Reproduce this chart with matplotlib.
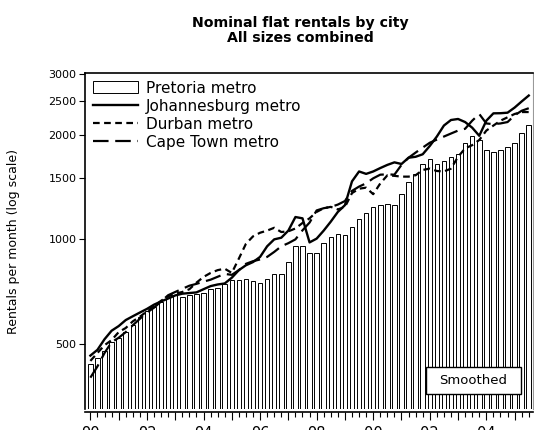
import numpy as np
import matplotlib.pyplot as plt
from matplotlib.patches import Rectangle
from matplotlib.ticker import FixedLocator, FuncFormatter, MultipleLocator, NullLocator

# quarterly observations, 1990Q1 .. 2005Q3
start_year = 1990
n_quarters = 63

pretoria = [437, 456, 477, 504, 519, 539, 568, 596, 623, 640,
            659, 679, 689, 684, 689, 694, 699, 717, 725, 744,
            765, 761, 771, 756, 749, 768, 792, 792, 858, 960,
            958, 916, 914, 974, 1015, 1033, 1028, 1086, 1146, 1194,
            1241, 1258, 1263, 1258, 1354, 1464, 1539, 1645, 1704, 1653,
            1681, 1730, 1769, 1895, 1990, 1936, 1807, 1787, 1816, 1849,
            1895, 2021, 2131]

johannesburg = [462, 480, 515, 545, 562, 585, 600, 615, 630, 648,
                662, 675, 689, 697, 700, 703, 718, 733, 741, 746,
                775, 815, 842, 860, 890, 955, 1000, 1011, 1060, 1160,
                1150, 980, 1005, 1060, 1125, 1200, 1255, 1470, 1570, 1545,
                1570, 1606, 1640, 1668, 1650, 1720, 1731, 1760, 1860, 1980,
                2130, 2210, 2225, 2180, 2100, 1990, 2200, 2310, 2312, 2320,
                2400, 2500, 2600]

durban = [446, 470, 495, 512, 540, 555, 580, 598, 620, 640,
          665, 685, 697, 705, 718, 750, 779, 800, 815, 823,
          800, 880, 971, 1020, 1045, 1060, 1080, 1050, 1055, 1075,
          1115, 1150, 1200, 1230, 1241, 1220, 1240, 1360, 1400, 1410,
          1350, 1450, 1530, 1525, 1517, 1517, 1531, 1586, 1600, 1575,
          1570, 1600, 1731, 1830, 1870, 1935, 2060, 2130, 2200, 2250,
          2300, 2330, 2330]

cape_town = [399, 430, 470, 505, 520, 540, 565, 590, 615, 635,
             662, 690, 705, 720, 735, 744, 755, 765, 780, 795,
             790, 815, 850, 865, 875, 890, 920, 955, 975, 1000,
             1062, 1118, 1212, 1230, 1240, 1260, 1290, 1380, 1420, 1451,
             1500, 1537, 1540, 1537, 1640, 1720, 1780, 1840, 1900, 1940,
             1980, 2020, 2060, 2085, 2200, 2300, 2160, 2150, 2160, 2180,
             2280, 2350, 2390]

y_ticks = [500, 1000, 1500, 2000, 2500, 3000]

x = start_year + 0.25 * np.arange(n_quarters)

fig = plt.figure(figsize=(5.34, 4.30), dpi=100)
ax = fig.add_axes([85 / 534, 1 - 409 / 430, 448 / 534, 336 / 430])

ax.set_yscale('log')
ax.set_ylim(324, 3020)
ax.set_xlim(1989.81, 2005.65)

bars = ax.bar(x, np.array(pretoria) - 1, bottom=1, width=0.16, color='white',
              edgecolor='black', linewidth=0.7, label='Pretoria metro')
l_jhb, = ax.plot(x, johannesburg, color='black', lw=1.7, label='Johannesburg metro')
l_dbn, = ax.plot(x, durban, color='black', lw=1.6, dashes=(3, 2), label='Durban metro')
l_cpt, = ax.plot(x, cape_town, color='black', lw=1.6, dashes=(7, 3), label='Cape Town metro')

# y axis
ax.yaxis.set_major_locator(FixedLocator(y_ticks))
ax.yaxis.set_major_formatter(FuncFormatter(lambda v, p: '%d' % v))
ax.yaxis.set_minor_locator(NullLocator())
ax.set_ylabel('Rentals per month (log scale)', fontsize=9)
ax.yaxis.set_label_coords(-0.145, 0.5)

# x axis: every year ticked, even years labelled
ax.xaxis.set_major_locator(MultipleLocator(1))
ax.xaxis.set_minor_locator(MultipleLocator(0.25))
ax.xaxis.set_major_formatter(FuncFormatter(
    lambda v, p: '%02d' % (int(round(v)) % 100) if int(round(v)) % 2 == 0 else ''))

ax.tick_params(axis='x', labelsize=10.5, direction='out')
ax.tick_params(axis='y', labelsize=8, direction='out')
ax.tick_params(axis='x', which='major', length=6, width=0.8, pad=4)
ax.tick_params(axis='x', which='minor', length=3.5, width=0.8)
ax.tick_params(axis='y', which='major', length=4, width=0.8, pad=2)

for side in ['left', 'bottom', 'top']:
    ax.spines[side].set_linewidth(1.2)
ax.spines['right'].set_color('#999999')
ax.spines['bottom'].set_position(('outward', 2))

ax.set_title('Nominal flat rentals by city\nAll sizes combined',
             fontsize=10.2, fontweight='bold', pad=22, x=0.48,
             linespacing=1.15)

ax.legend([bars, l_jhb, l_dbn, l_cpt],
          ['Pretoria metro', 'Johannesburg metro', 'Durban metro', 'Cape Town metro'],
          loc='upper left', frameon=False, fontsize=11, handlelength=3.0,
          handleheight=0.8, handletextpad=0.5, labelspacing=0.2,
          borderaxespad=0.2, borderpad=0.3, bbox_to_anchor=(0.0, 1.0))

# "Smoothed" note box
ax.add_patch(Rectangle((0.761, 0.045), 0.212, 0.08, transform=ax.transAxes,
                       facecolor='white', edgecolor='black', lw=1.0, zorder=5))
ax.text(0.867, 0.085, 'Smoothed', transform=ax.transAxes, ha='center',
        va='center', fontsize=9.5, zorder=6)

fig.savefig('out.png', dpi=100)
